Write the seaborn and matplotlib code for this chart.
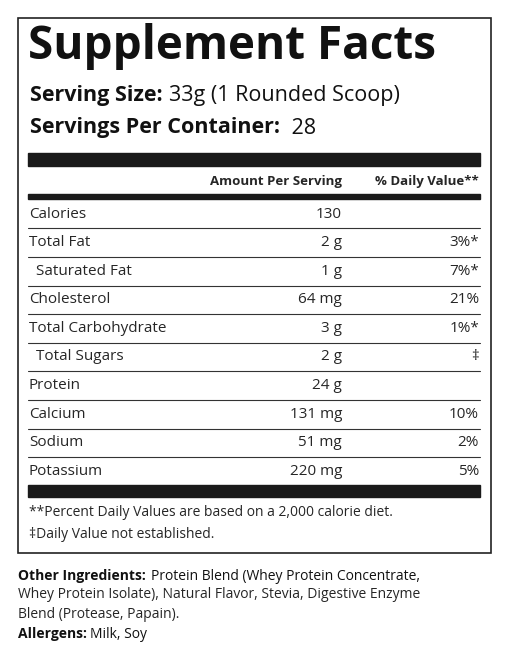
import matplotlib
matplotlib.use("Agg")
import matplotlib.pyplot as plt
import seaborn as sns

sns.set_style("white")
plt.rcParams['font.family'] = ['Open Sans', 'DejaVu Sans']

nutrients = ["Calories", "Total Fat", "Saturated Fat", "Cholesterol", "Total Carbohydrate",
             "Total Sugars", "Protein", "Calcium", "Sodium", "Potassium"]
indent = [False, False, True, False, False, True, False, False, False, False]
amounts = ["130", "2 g", "1 g", "64 mg", "3 g", "2 g", "24 g", "131 mg", "51 mg", "220 mg"]
daily = ["", "3%*", "7%*", "21%", "1%*", "‡", "", "10%", "2%", "5%"]

fig = plt.figure(figsize=(5.12, 6.62), dpi=100)
ax = fig.add_axes([0, 0, 1, 1])
ax.set_xlim(0, 512); ax.set_ylim(662, 0); ax.axis("off")
renderer = fig.canvas.get_renderer()
inv = ax.transData.inverted()

def pair(x, y, bold, regular, size, gap=6):
    t = ax.text(x, y, bold, fontsize=size, fontweight="bold", va="center", color="#111")
    bb = t.get_window_extent(renderer=renderer)
    xe = inv.transform((bb.x1, bb.y0))[0]
    ax.text(xe + gap, y, regular, fontsize=size, va="center", color="#111")

ax.add_patch(plt.Rectangle((18, 18), 473, 535, fill=False, lw=1.2, ec="#222"))
ax.text(28, 46, "Supplement Facts", fontsize=33, fontweight="bold", va="center", color="#111")
pair(30, 95, "Serving Size:", "33g (1 Rounded Scoop)", 15.5)
pair(30, 128, "Servings Per Container:", " 28", 15.5)

ax.add_patch(plt.Rectangle((28, 153), 452, 13, color="#1a1a1a"))
ax.text(342, 181, "Amount Per Serving", fontsize=9.5, fontweight="bold", ha="right", va="center")
ax.text(479, 181, "% Daily Value**", fontsize=9.5, fontweight="bold", ha="right", va="center")
ax.add_patch(plt.Rectangle((28, 194), 452, 5, color="#1a1a1a"))

y0, dy = 214, 28.6
for i, (n, a, d) in enumerate(zip(nutrients, amounts, daily)):
    y = y0 + i * dy
    ax.text(36 if indent[i] else 29, y, n, fontsize=11, va="center")
    ax.text(342, y, a, fontsize=11, ha="right", va="center")
    ax.text(479, y, d, fontsize=11, ha="right", va="center")
    if i < len(nutrients) - 1:
        ax.plot([28, 480], [y + dy / 2] * 2, color="#333", lw=0.8)

ax.add_patch(plt.Rectangle((28, 485), 452, 12, color="#1a1a1a"))
ax.text(29, 513, "**Percent Daily Values are based on a 2,000 calorie diet.", fontsize=10, va="center")
ax.text(29, 534, "‡Daily Value not established.", fontsize=10, va="center")

pair(18, 576, "Other Ingredients:", "Protein Blend (Whey Protein Concentrate,", 10, gap=5)
ax.text(18, 595, "Whey Protein Isolate), Natural Flavor, Stevia, Digestive Enzyme", fontsize=10, va="center")
ax.text(18, 614, "Blend (Protease, Papain).", fontsize=10, va="center")
pair(18, 634, "Allergens:", "Milk, Soy", 10, gap=3)

fig.savefig("out.png", dpi=100)
